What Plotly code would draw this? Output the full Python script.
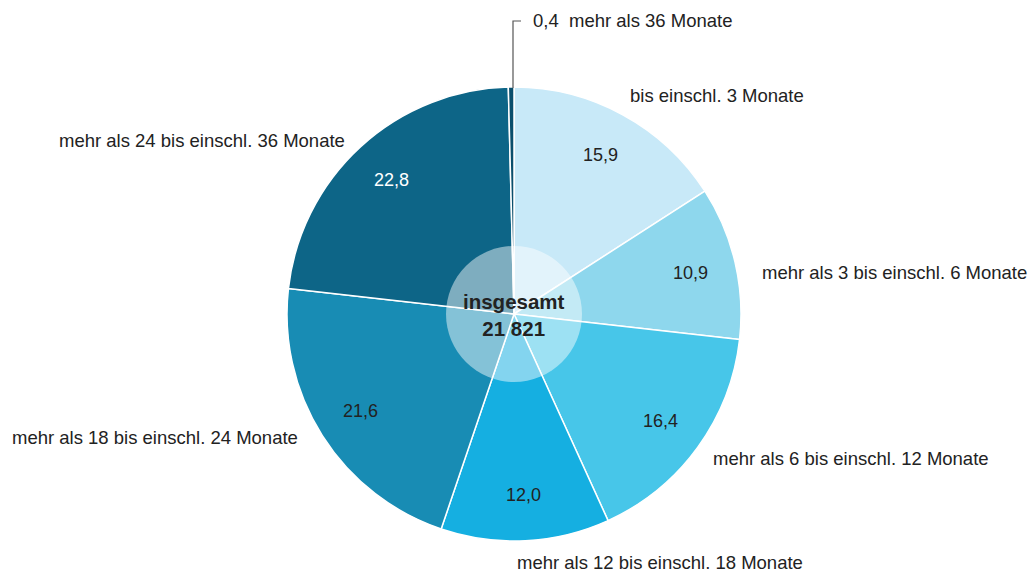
import math
import plotly.graph_objects as go

W, H = 1032, 572

categories = [
    "bis einschl. 3 Monate",
    "mehr als 3 bis einschl. 6 Monate",
    "mehr als 6 bis einschl. 12 Monate",
    "mehr als 12 bis einschl. 18 Monate",
    "mehr als 18 bis einschl. 24 Monate",
    "mehr als 24 bis einschl. 36 Monate",
    "mehr als 36 Monate",
]
values = [15.9, 10.9, 16.4, 12.0, 21.6, 22.8, 0.4]
value_labels = ["15,9", "10,9", "16,4", "12,0", "21,6", "22,8", "0,4"]
total_label = "insgesamt<br>21 821"

colors = ["#c8e9f8", "#8ed7ed", "#47c6e9", "#15afe1", "#188cb4", "#0d6587", "#0b4f6c"]
value_text_colors = ["#222222", "#222222", "#222222", "#222222", "#222222", "#ffffff", "#222222"]

# pie geometry in pixels
CX, CY, R = 514, 314, 227
R_INNER = 68

FAMILY = "Liberation Sans, Arial, Helvetica, sans-serif"


def px(x):
    return x / W


def py(y):
    return 1 - y / H


fig = go.Figure(go.Pie(
    labels=categories,
    values=values,
    sort=False,
    direction="clockwise",
    rotation=0,
    marker=dict(colors=colors, line=dict(color="white", width=1.5)),
    textinfo="none",
    hoverinfo="label+value",
    showlegend=False,
    domain=dict(x=[px(CX - R), px(CX + R)], y=[py(CY + R), py(CY - R)]),
))

annotations = []
label_font = dict(family=FAMILY, size=18.5, color="#222222")

# value labels inside slices (positions derived from data)
total = sum(values)
cum = 0.0
for v, lab, col in zip(values, value_labels, value_text_colors):
    mid = (cum + v / 2) / total * 2 * math.pi
    cum += v
    if v < 2:
        continue
    x = CX + 0.8 * R * math.sin(mid)
    y = CY - 0.8 * R * math.cos(mid)
    annotations.append(dict(x=px(x), y=py(y), xref="paper", yref="paper", text=lab,
                            showarrow=False, xanchor="center", yanchor="middle",
                            font=dict(family=FAMILY, size=18, color=col)))

# outside category labels
outside = [
    (categories[0], 628, 96, "left"),
    (categories[1], 760, 272, "left"),
    (categories[2], 711, 458, "left"),
    (categories[3], 515, 562, "left"),
    (categories[4], 300, 437, "right"),
    (categories[5], 347, 141, "right"),
    (value_labels[6] + "  " + categories[6], 531, 20, "left"),
]
for text, x, y, anc in outside:
    annotations.append(dict(x=px(x), y=py(y), xref="paper", yref="paper", text=text,
                            showarrow=False, xanchor=anc, yanchor="middle", font=label_font))

# center label
annotations.append(dict(x=px(CX), y=py(CY + 1), xref="paper", yref="paper", text="<b>" + total_label + "</b>",
                        showarrow=False, xanchor="center", yanchor="middle",
                        font=dict(family=FAMILY, size=20.5, color="#222222")))

shapes = [
    dict(type="circle", xref="paper", yref="paper",
         x0=px(CX - R_INNER), x1=px(CX + R_INNER), y0=py(CY + R_INNER), y1=py(CY - R_INNER),
         fillcolor="rgba(255,255,255,0.47)", line=dict(width=0), layer="above"),
    dict(type="path", xref="paper", yref="paper",
         path=f"M {px(513)} {py(88)} L {px(513)} {py(21)} L {px(521)} {py(21)}",
         line=dict(color="#555555", width=1.2)),
]

fig.update_layout(
    width=W, height=H,
    margin=dict(l=0, r=0, t=0, b=0),
    paper_bgcolor="white",
    plot_bgcolor="white",
    annotations=annotations,
    shapes=shapes,
)

fig.write_html("out.html", config={"displayModeBar": False},
               post_script="document.body.style.margin='0';document.body.style.overflow='hidden';")
